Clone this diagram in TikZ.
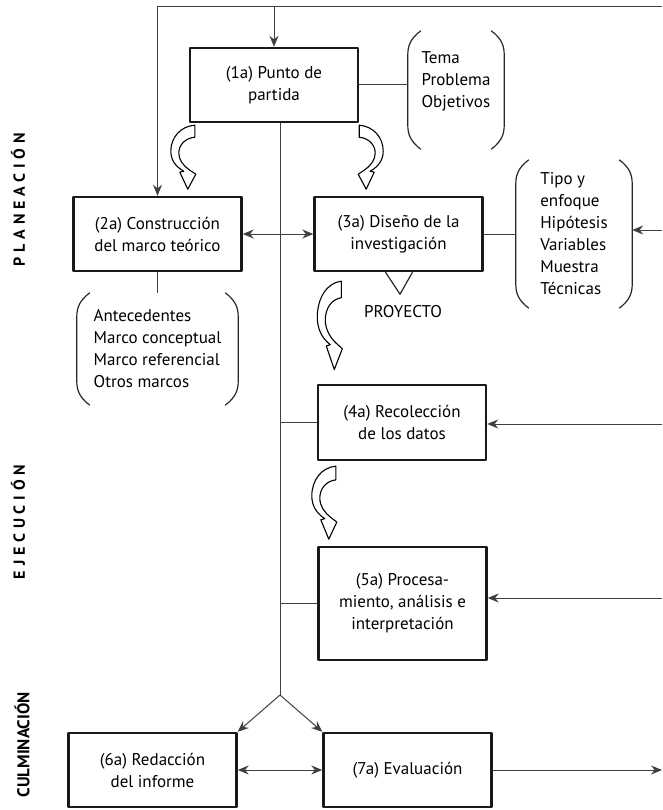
\documentclass[tikz,border=0pt]{standalone}
\usepackage{fontspec}
\setmainfont{PT Sans}
\usetikzlibrary{arrows.meta,positioning}
\tikzset{
	paso/.style={draw=black!90,line width=2.4pt,align=center,minimum width=168pt,minimum height=74pt,inner sep=2pt},
	lista/.style={align=left,inner sep=0pt},
	enlace/.style={line width=1pt,draw=black!75},
	paren/.style={line width=1.2pt,draw=black!85},
	fase/.style={rotate=90,inner sep=0pt,font=\bfseries\fontsize{16}{18}\selectfont\addfontfeature{LetterSpace=30}},
	curvarrow/.pic={
		\draw[line width=1.1pt,fill=white] (0,0) -- (0,12) .. controls (-10,13) and (-16,20) .. (-16,28)
		.. controls (-16,35) and (-11,41) .. (-5,45) -- (1,49) -- (-7,64) -- (-15,47) -- (-11,46)
		.. controls (-20,41) and (-24,34) .. (-24,26) .. controls (-24,12) and (-14,1) .. (0,0) -- cycle;
	}
}
\begin{document}
\begin{tikzpicture}[x=1pt,y=-1pt,>={Stealth[length=11pt,width=9pt]},line join=round,font=\fontsize{17}{22}\selectfont]
	\useasboundingbox (0,0) rectangle (662,810);
	% pasos
	\node[paso] (p1) at (274,85) {(1a) Punto de\\partida};
	\node[paso] (p2) at (157.5,234) {(2a) Construcción\\del marco teórico};
	\node[paso] (p3) at (398.5,234) {(3a) Diseño de la\\investigación};
	\node[paso,minimum height=75pt] (p4) at (402,422.5) {(4a) Recolección\\de los datos};
	\node[paso,minimum height=113pt] (p5) at (402.5,603.5) {(5a) Procesa-\\miento, análisis e\\interpretación};
	\node[paso] (p6) at (152.5,770) {(6a) Redacción\\del informe};
	\node[paso] (p7) at (407.5,770) {(7a) Evaluación};
	% listas
	\node[lista,minimum width=96pt,minimum height=118pt] (tema) at (456,81) {Tema\\Problema\\Objetivos};
	\node[lista,minimum width=116pt,minimum height=148pt] (tipo) at (574,234) {Tipo y\\enfoque\\Hipótesis\\Variables\\Muestra\\Técnicas};
	\node[lista,minimum width=161pt,minimum height=112pt] (ante) at (157.5,349) {Antecedentes\\Marco conceptual\\Marco referencial\\Otros marcos};
	\foreach \n/\d in {tema/9,tipo/0,ante/0}{
		\draw[paren] ([shift={(13,\d)}]\n.north west) .. controls ([shift={(2,8+\d)}]\n.north west) and ([shift={(0,16+\d)}]\n.north west) .. ([shift={(0,24+\d)}]\n.north west)
		-- ([shift={(0,-24+\d)}]\n.south west) .. controls ([shift={(0,-16+\d)}]\n.south west) and ([shift={(2,-8+\d)}]\n.south west) .. ([shift={(13,\d)}]\n.south west);
		\draw[paren] ([shift={(-13,\d)}]\n.north east) .. controls ([shift={(-2,8+\d)}]\n.north east) and ([shift={(0,16+\d)}]\n.north east) .. ([shift={(0,24+\d)}]\n.north east)
		-- ([shift={(0,-24+\d)}]\n.south east) .. controls ([shift={(0,-16+\d)}]\n.south east) and ([shift={(-2,-8+\d)}]\n.south east) .. ([shift={(-13,\d)}]\n.south east);
	}
	% fases
	\node[fase] (plan) at (18,200) {PLANEACIÓN};
	\node[fase] (ejec) at (18,522) {EJECUCIÓN};
	\node[fase,anchor=east,font=\bfseries\fontsize{17}{18}\selectfont] (culm) at (22,692) {CULMINACIÓN};
	% proyecto
	\draw[paren] ([xshift=-13pt]p3.south) -- ([shift={(1.5,22)}]p3.south) -- ([xshift=14pt]p3.south);
	\node (proy) at (403,312) {PROYECTO};
	% flechas curvas
	\pic at ([shift={(6,2)}]p1.south west) {curvarrow};
	\pic[xscale=-1] at ([shift={(0,2)}]p1.south east) {curvarrow};
	\pic[yscale=1.38] at ([shift={(28,9)}]p3.south west) {curvarrow};
	\pic[yscale=1.14] at ([shift={(19,5)}]p4.south west) {curvarrow};
	% enlaces
	\coordinate (arriba) at (662,7);
	\coordinate (rtipo) at (662,230);
	\coordinate (r4) at (662,424);
	\coordinate (r5) at (662,598);
	\coordinate (fin) at (662,770);
	\coordinate (fork) at (280,695);
	\draw[enlace,->] (arriba) -| (p2.north);
	\draw[enlace,->] (p1.north |- arriba) -- (p1.north);
	\draw[enlace] (p1.east) -- (p1.east -| tema.west);
	\draw[enlace] (p3.east) -- (p3.east -| tipo.west);
	\draw[enlace,->] (rtipo) -- (rtipo -| tipo.east);
	\draw[enlace,<->] (p2.east) -- (p3.west);
	\draw[enlace] (p2.south) -- (ante.north);
	\draw[enlace] (p1.south -| fork) -- (fork);
	\draw[enlace] (p4.west -| fork) -- (p4.west);
	\draw[enlace] (p5.west -| fork) -- (p5.west);
	\draw[enlace,->] (r4) -- (r4 -| p4.east);
	\draw[enlace,->] (r5) -- (r5 -| p5.east);
	\draw[enlace,->] (fork) -- (p6.north east);
	\draw[enlace,->] (fork) -- (p7.north west);
	\draw[enlace,<->] (p6.east) -- (p7.west);
	\draw[enlace,->] (p7.east) -- (fin);
\end{tikzpicture}
\end{document}
